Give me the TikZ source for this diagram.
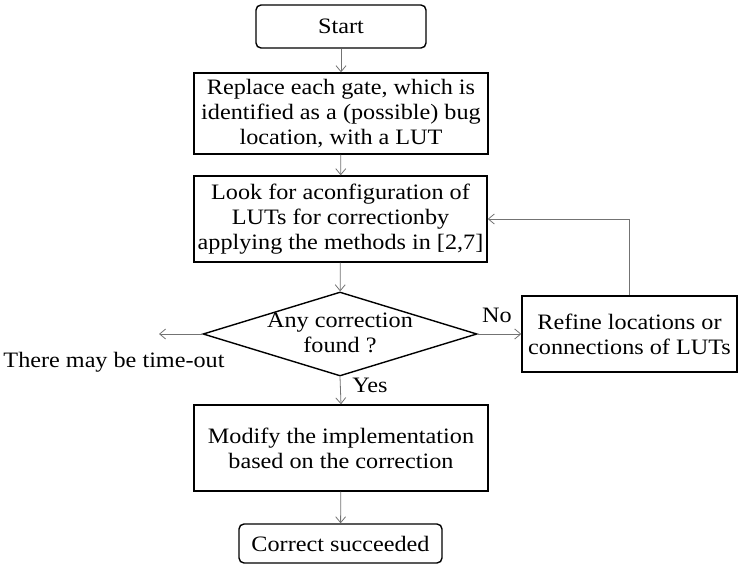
\documentclass[tikz,border=0pt]{standalone}
\usepackage{fontspec}
\setmainfont[FakeStretch=1.1]{Liberation Serif}
\usetikzlibrary{arrows.meta,shapes.geometric}
\begin{document}
\begin{tikzpicture}[x=1pt,y=1pt,
  every node/.style={font=\fontsize{22}{25}\selectfont},
  box/.style={draw=black,line width=1.4pt,inner sep=0pt,align=center},
  rbox/.style={box,rounded corners=5pt},
  conn/.style={draw=black!55,line width=0.8pt,-{Straight Barb[length=6pt,width=10pt]}},
  lbl/.style={inner sep=0pt}]
\useasboundingbox (0,0) rectangle (739,-564);
\node[rbox,minimum width=170,minimum height=43] (start) at (341,-26.5) {Start};
\node[box,minimum width=294,minimum height=81] (repl) at (341,-113.5)
  {Replace each gate, which is\\identified as a (possible) bug\\location, with a LUT};
\node[box,minimum width=293,minimum height=86] (look) at (340.5,-219)
  {Look for aconfiguration of\\LUTs for correctionby\\applying the methods in [2,7]};
\node[draw=black,line width=1.4pt,shape=diamond,inner sep=0pt,minimum width=274,minimum height=84] (dec) at (340,-334) {};
\node[lbl,align=center] (dect) at (340,-333) {Any correction\\found ?};
\node[box,minimum width=215,minimum height=76] (ref) at (629.5,-334)
  {Refine locations or\\connections of LUTs};
\node[box,minimum width=294,minimum height=86] (mod) at (341,-448)
  {Modify the implementation\\based on the correction};
\node[rbox,minimum width=203,minimum height=39] (corr) at (340.5,-543.5) {Correct succeeded};
\coordinate (tout) at (159,-334);
\node[lbl] (toutt) at (114,-362) {There may be time-out};
\node[lbl] (no) at (497,-315) {No};
\node[lbl] (yes) at (370,-385) {Yes};
\draw[conn] (start) -- (repl);
\draw[conn] (repl) -- (look);
\draw[conn] (look) -- (dec);
\draw[conn] (dec.east) -- (ref.west);
\draw[conn] (ref.north) |- (look.east);
\draw[conn] (dec.west) -- (tout);
\draw[conn] (dec.south) -- (mod.north);
\draw[conn] (mod) -- (corr);
\end{tikzpicture}
\end{document}
